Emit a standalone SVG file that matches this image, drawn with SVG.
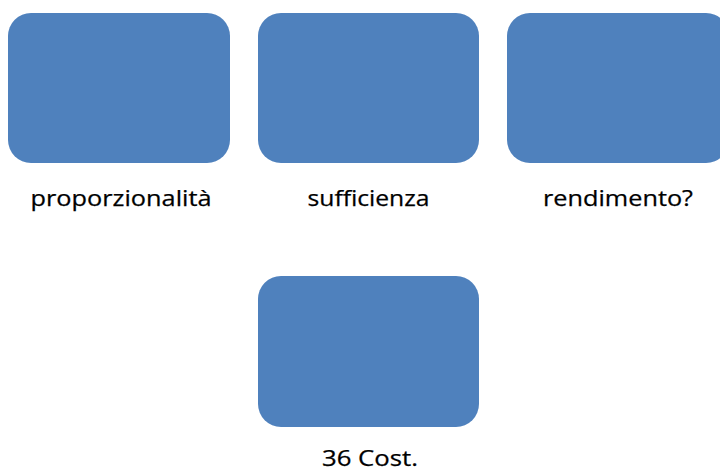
<svg xmlns="http://www.w3.org/2000/svg" width="720" height="471" viewBox="0 0 720 471">
  <style>
    .box { fill: #4F81BD; }
    .label { font-family: "Open Sans", "Liberation Sans", sans-serif; font-size: 22px; fill: #000000; text-anchor: middle; stroke: #000000; stroke-width: 0.25; }
  </style>
  <rect width="720" height="471" fill="#FFFFFF"/>
  <g id="node-proporzionalita">
    <rect class="box" x="8" y="13" width="222" height="150" rx="23" ry="23"/>
    <text class="label" x="121" y="205.5" textLength="181" lengthAdjust="spacingAndGlyphs">proporzionalità</text>
  </g>
  <g id="node-sufficienza">
    <rect class="box" x="258" y="13" width="221" height="150" rx="23" ry="23"/>
    <text class="label" x="368.5" y="205.5" textLength="122" lengthAdjust="spacingAndGlyphs">sufficienza</text>
  </g>
  <g id="node-rendimento">
    <rect class="box" x="507" y="13" width="222" height="150" rx="23" ry="23"/>
    <text class="label" x="618" y="205.5" textLength="150" lengthAdjust="spacingAndGlyphs">rendimento?</text>
  </g>
  <g id="node-36-cost">
    <rect class="box" x="258" y="276" width="221" height="151" rx="23" ry="23"/>
    <text class="label" x="370" y="465.5" textLength="96" lengthAdjust="spacingAndGlyphs">36 Cost.</text>
  </g>
  <g id="connectors"></g>
</svg>
